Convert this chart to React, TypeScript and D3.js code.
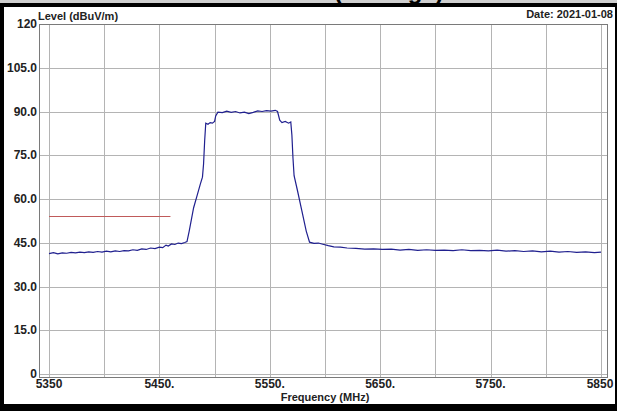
import React from "react";
import * as d3 from "d3";

// measured trace (MHz, dBuV/m)
const freqs = [
  5350, 5354, 5358, 5362, 5366, 5370, 5374, 5378, 5382, 5386, 5390, 5394, 5398, 5402, 5406, 5410,
  5414, 5418, 5422, 5426, 5430, 5434, 5438, 5442, 5446, 5450, 5453, 5456, 5458, 5461, 5464, 5467,
  5470, 5473, 5475, 5477, 5479, 5481, 5484, 5487, 5489, 5490, 5491, 5492, 5494, 5496, 5498, 5500,
  5501, 5503, 5507, 5511, 5515, 5519, 5523, 5527, 5531, 5535, 5539, 5543, 5547, 5551, 5555, 5557,
  5559, 5561, 5564, 5567, 5569, 5570, 5571, 5572, 5575, 5579, 5583, 5586, 5590, 5594, 5598, 5603,
  5608, 5614, 5620, 5628, 5636, 5644, 5652, 5660, 5668, 5676, 5684, 5692, 5700, 5708, 5716, 5724,
  5732, 5740, 5748, 5756, 5764, 5772, 5780, 5788, 5796, 5804, 5812, 5820, 5828, 5836, 5844, 5850,
];
const levels = [
  41.3, 41.6, 41.2, 41.5, 41.4, 41.7, 41.5, 41.8, 41.6, 41.9, 41.7, 42.0, 41.8, 42.1, 41.9, 42.2,
  42.0, 42.3, 42.2, 42.6, 42.4, 42.9, 42.7, 43.2, 43.0, 43.5, 43.3, 44.2, 43.9, 44.6, 44.4, 44.9,
  44.7, 45.1, 45.4, 49.0, 53.0, 57.0, 61.0, 65.0, 67.5, 72.0, 80.0, 86.0, 85.6, 86.2, 86.0, 86.6,
  88.5, 89.8, 89.6, 90.1, 89.7, 90.0, 89.5, 89.8, 89.3, 89.7, 90.2, 90.0, 90.3, 90.1, 90.4, 90.0,
  87.0, 86.2, 86.6, 86.0, 86.4, 82.0, 74.0, 68.0, 63.0, 56.0, 49.0, 45.2, 44.8, 44.9, 44.5, 44.0,
  43.6, 43.5, 43.2, 43.1, 42.8, 42.9, 42.7, 42.8, 42.5, 42.7, 42.4, 42.6, 42.4, 42.5, 42.3, 42.6,
  42.3, 42.4, 42.2, 42.5, 42.1, 42.3, 42.0, 42.2, 41.9, 42.1, 41.8, 42.0, 41.7, 41.9, 41.6, 41.8,
];

// limit line
const limitFreqs = [5350, 5460];
const limitLevels = [54, 54];

const yTickValues = [0, 15, 30, 45, 60, 75, 90, 105, 120];
const yTickLabels = ["0", "15.0", "30.0", "45.0", "60.0", "75.0", "90.0", "105.0", "120"];
const xGridValues = [5350, 5400, 5450, 5500, 5550, 5600, 5650, 5700, 5750, 5800, 5850];
const xTickValues = [5350, 5450, 5550, 5650, 5750, 5850];
const xTickLabels = ["5350", "5450.", "5550.", "5650.", "5750.", "5850"];

const W = 617;
const H = 411;
const font = "'Liberation Sans', Arial, sans-serif";

export default function App() {
  const x = d3.scaleLinear([5350, 5850], [49, 601]);
  const y = d3.scaleLinear([0, 120], [374, 24]);

  const trace = d3.line<number>((d, i) => x(freqs[i]), (d) => y(d));
  const limit = d3.line<number>((d, i) => x(limitFreqs[i]), (d) => y(d));

  return (
    <div style={{ position: "absolute", left: 0, top: 0 }}>
      <svg width={W} height={H} style={{ display: "block" }}>
        <rect x={0} y={0} width={W} height={H} fill="#fff" />
        {/* cropped title strip */}
        <rect x={0} y={0} width={W} height={3} fill="#cfcfcf" />
        <text x={334} y={-1} fontFamily={font} fontWeight="bold" fontSize={24} fill="#000">
          (Average)
        </text>
        {/* black border */}
        <rect x={0} y={3} width={W} height={4} fill="#000" />
        <rect x={0} y={3} width={4} height={H} fill="#000" />
        <rect x={615} y={3} width={2} height={H} fill="#000" />
        <rect x={0} y={404} width={W} height={7} fill="#000" />

        {/* grid */}
        <g stroke="#b4b4b4" strokeWidth={1}>
          {yTickValues.map((v) => (
            <line key={"h" + v} x1={39} x2={607} y1={Math.round(y(v)) + 0.5} y2={Math.round(y(v)) + 0.5} />
          ))}
          {xGridValues.map((v) => (
            <line key={"v" + v} x1={Math.round(x(v)) + 0.5} x2={Math.round(x(v)) + 0.5} y1={24} y2={377} />
          ))}
        </g>
        <rect x={39.5} y={24.5} width={568} height={353} fill="none" stroke="#7a7a7a" strokeWidth={1} />

        {/* limit and trace */}
        <path d={limit(limitLevels)!} fill="none" stroke="#c05a5a" strokeWidth={1.2} />
        <path d={trace(levels)!} fill="none" stroke="#20208f" strokeWidth={1.2} />

        {/* y labels */}
        <g fontFamily={font} fontWeight="bold" fontSize={12} fill="#222" textAnchor="end">
          {yTickValues.map((v, i) => (
            <text key={v} x={37} y={y(v) + 4}>
              {yTickLabels[i]}
            </text>
          ))}
        </g>
        {/* x labels */}
        <g fontFamily={font} fontWeight="bold" fontSize={12} fill="#222" textAnchor="middle">
          {xTickValues.map((v, i) => (
            <text key={v} x={i === xTickValues.length - 1 ? x(v) - 1 : x(v)} y={388}>
              {xTickLabels[i]}
            </text>
          ))}
        </g>

        <text x={38} y={20} fontFamily={font} fontWeight="bold" fontSize={11} fill="#222">
          Level (dBuV/m)
        </text>
        <text x={613} y={18} fontFamily={font} fontWeight="bold" fontSize={11} fill="#222" textAnchor="end">
          Date: 2021-01-08
        </text>
        <text x={325} y={401} fontFamily={font} fontWeight="bold" fontSize={11} fill="#222" textAnchor="middle">
          Frequency (MHz)
        </text>
      </svg>
    </div>
  );
}
